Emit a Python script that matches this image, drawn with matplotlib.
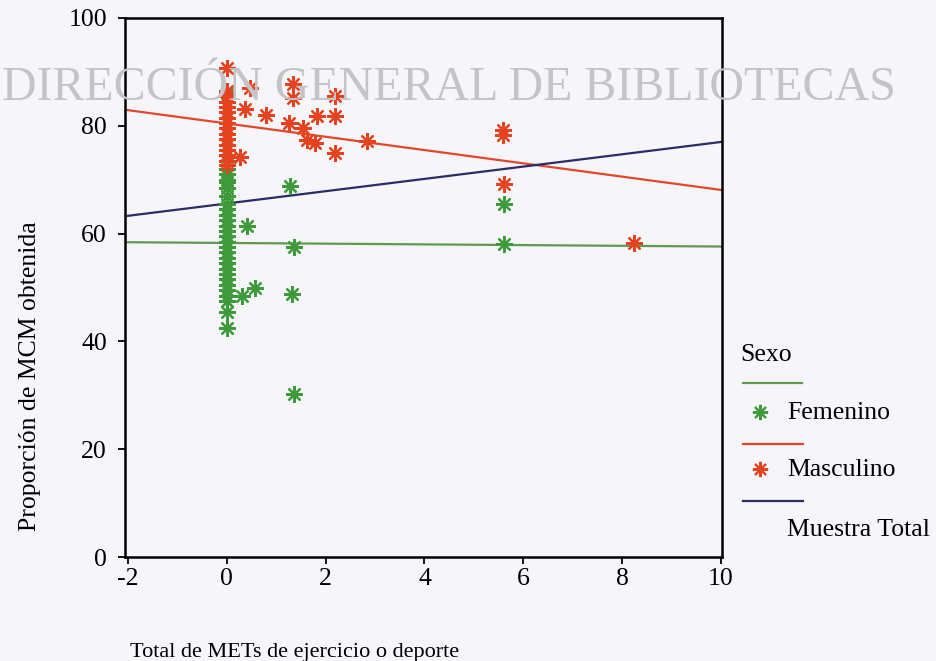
import matplotlib
matplotlib.use("Agg")
import matplotlib.pyplot as plt
from matplotlib.lines import Line2D
import numpy as np

# ---------------- data ----------------
fem_x0_vals = [86, 72, 71, 70, 69.5, 68.5, 67, 65.5, 64.5, 63.5, 62.5, 61.5, 60.5,
               59.5, 58.5, 57.5, 56.5, 55.5, 54.5, 53.5, 52.5, 51.5, 50.5, 49.5,
               48.5, 47.5, 45.5, 42.5]
fem_other_x = [0.30, 0.40, 0.57, 1.28, 1.35, 1.31, 1.35, 5.6, 5.6]
fem_other_y = [48.5, 61.5, 50.0, 68.8, 57.5, 48.8, 30.2, 65.5, 58.0]

mas_x0_vals = [90.8, 86.5, 85.5, 84.5, 83.5, 82.5, 81.5, 80.5, 79.5, 78.5, 77.5,
               76.5, 75.5, 74.5, 73.5, 72.8]
mas_other_x = [0.47, 0.37, 0.80, 0.27, 1.34, 1.34, 2.19, 1.82, 2.19, 1.25, 1.55,
               1.62, 1.79, 2.83, 2.19, 5.58, 5.58, 5.60, 8.24]
mas_other_y = [87.0, 83.2, 82.0, 74.2, 87.8, 85.2, 85.5, 81.8, 81.8, 80.5, 79.5,
               77.4, 76.8, 77.2, 75.0, 78.3, 79.2, 69.2, 58.3]

# fitted lines: values at x = -2 and x = 10
fit_x = [-2, 10]
fem_fit = [58.4, 57.6]
mas_fit = [82.9, 68.1]
tot_fit = [63.3, 77.0]

x_ticks = [-2, 0, 2, 4, 6, 8, 10]
y_ticks = [0, 20, 40, 60, 80, 100]

# ---------------- styling ----------------
BG = "#f6f5fa"
GREEN = "#3f9a3c"
GREEN_LINE = "#5f9a50"
RED = "#e5431f"
RED_LINE = "#e2472c"
BLUE_LINE = "#2b2b66"
SERIF = ["Liberation Serif", "DejaVu Serif"]

plt.rcParams["font.family"] = SERIF

W, H = 936, 661
fig = plt.figure(figsize=(W / 100, H / 100), dpi=100, facecolor=BG)
ax = fig.add_axes([125 / W, 1 - 557 / H, (722 - 125) / W, (557 - 18) / H])
ax.set_facecolor(BG)

marker = (8, 2, 0)
fx = [0.0] * len(fem_x0_vals) + fem_other_x
fy = fem_x0_vals + fem_other_y
mx = [0.0] * len(mas_x0_vals) + mas_other_x
my = mas_x0_vals + mas_other_y

ax.plot(fit_x, fem_fit, color=GREEN_LINE, lw=1.6, zorder=2)
ax.plot(fit_x, mas_fit, color=RED_LINE, lw=1.6, zorder=2)
ax.plot(fit_x, tot_fit, color=BLUE_LINE, lw=1.6, zorder=2)

ax.plot(fx, fy, linestyle="none", marker=marker, ms=12, mew=1.6,
        color=GREEN, zorder=3)
ax.plot(mx, my, linestyle="none", marker=marker, ms=12, mew=1.6,
        color=RED, zorder=4)

ax.set_xlim(-2.06, 10.02)
ax.set_ylim(0, 100)
ax.set_xticks(x_ticks)
ax.set_yticks(y_ticks)
ax.set_xticklabels([str(t) for t in x_ticks])
ax.set_yticklabels([str(t) for t in y_ticks])
ax.tick_params(axis="both", direction="out", length=5, width=1.3,
               labelsize=18.5, colors="black")
ax.tick_params(axis="y", pad=8)
ax.tick_params(axis="x", pad=3)
for s in ax.spines.values():
    s.set_linewidth(1.8)
    s.set_color("black")

# axis titles
fig.text(30 / W, 1 - 376 / H, "Proporción de MCM obtenida", rotation=90,
         ha="center", va="center", fontsize=18.5)
fig.text(130 / W, 1 - 652 / H, "Total de METs de ejercicio o deporte",
         ha="left", va="center", fontsize=16)

# legend (drawn manually to mimic layout)
fig.text(740 / W, 1 - 355 / H, "Sexo", ha="left", va="center", fontsize=18.5)
fig.add_artist(Line2D([743 / W, 802 / W], [1 - 383 / H, 1 - 383 / H],
                      color=GREEN_LINE, lw=1.6, transform=fig.transFigure))
fig.add_artist(Line2D([760 / W], [1 - 412 / H], marker=marker, ms=11, mew=1.5,
                      color=GREEN, linestyle="none", transform=fig.transFigure))
fig.text(787 / W, 1 - 413 / H, "Femenino", ha="left", va="center", fontsize=18.5)
fig.add_artist(Line2D([743 / W, 803 / W], [1 - 444 / H, 1 - 444 / H],
                      color=RED_LINE, lw=1.6, transform=fig.transFigure))
fig.add_artist(Line2D([760 / W], [1 - 469 / H], marker=marker, ms=11, mew=1.5,
                      color=RED, linestyle="none", transform=fig.transFigure))
fig.text(787 / W, 1 - 470 / H, "Masculino", ha="left", va="center", fontsize=18.5)
fig.add_artist(Line2D([743 / W, 803 / W], [1 - 501 / H, 1 - 501 / H],
                      color=BLUE_LINE, lw=1.6, transform=fig.transFigure))
fig.text(787 / W, 1 - 530 / H, "Muestra Total", ha="left", va="center", fontsize=18.5)

# watermark
fig.text(449 / W, 1 - 100 / H, "DIRECCIÓN GENERAL DE BIBLIOTECAS",
         ha="center", va="baseline", fontsize=34.5, color="#c4c4c8",
         zorder=0.5)

fig.savefig("out.png", dpi=100, facecolor=BG)
